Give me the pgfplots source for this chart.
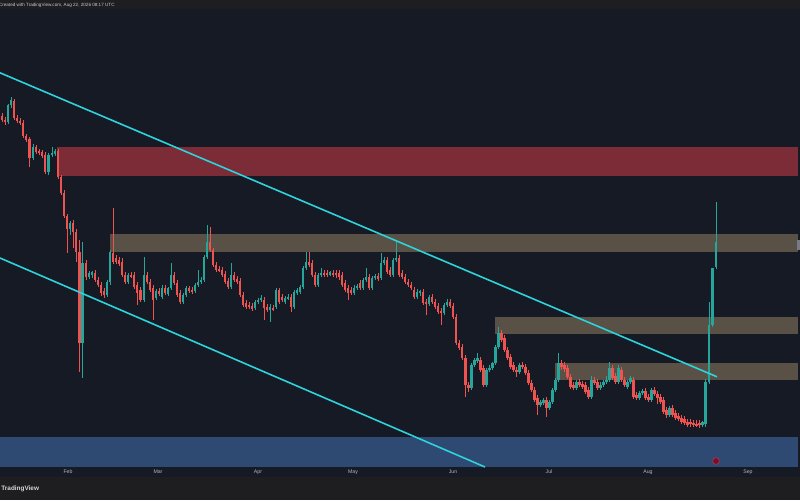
\documentclass[border=0pt]{standalone}
\usepackage{pgfplots}
\pgfplotsset{compat=1.18}
\usepackage{pgfplotstable}
\usepackage{fontspec}
\setmainfont{Liberation Sans}
\definecolor{bgchart}{RGB}{22,26,37}
\definecolor{strip}{RGB}{30,30,32}
\definecolor{zred}{RGB}{123,44,54}
\definecolor{zbrown}{RGB}{89,80,70}
\definecolor{zblue}{RGB}{46,74,114}
\definecolor{cred}{RGB}{239,83,80}
\definecolor{cgreen}{RGB}{38,166,154}
\definecolor{chan}{RGB}{45,212,220}
\definecolor{lbl}{RGB}{178,181,190}
\definecolor{tabgray}{RGB}{120,123,134}
\definecolor{evfill}{RGB}{110,18,45}
\definecolor{evdraw}{RGB}{190,50,80}
\definecolor{toptext}{RGB}{200,202,208}
\definecolor{bottext}{RGB}{215,215,218}

\pgfplotstableread{
x o h l c
2 116 113 122 120
5 120 117 125 122
8 122 104 124 105
11 105 97 108 100
14 101 99 120 118
17 118 115 123 121
20 121 118 125 123
23 123 120 138 136
26 136 134 142 140
29.5 139 137 167 158
33 158 144 160 147
36 147 145 154 152
39 151 149 155 153
42 152 150 158 156
45 155 152 174 172
48.5 172 153 175 155
52 155 147 157 153
55 154 149 156 151
58 151 149 179 177
61 177 175 195 193
64 193 190 218 216
67 216 214 253 229
70 229 221 235 223
73 223 220 248 232
76 232 229 262 252
79.5 252 240 372 343
82.5 343 242 378 263
86 263 260 280 277
89 277 271 279 273
92 275 271 278 272
95 273 270 282 280
98 280 277 287 285
101 285 282 296 293
104 291 288 298 295
107 295 280 297 282
110 282 250 285 252
113 253 208 264 262
116 258 255 264 262
119 260 257 266 264
122 262 258 277 275
125 275 272 284 282
128 282 273 284 275
131 275 272 278 276
134 275 272 289 287
137 285 282 305 293
140.5 290 287 302 300
144 300 257 302 275
147 275 272 284 282
150 282 279 292 290
153 288 285 320 300
156 298 289 300 291
159 291 288 296 294
162 297 285 299 288
165 288 285 295 293
168 294 287 296 288
171 288 263 290 275
174 275 272 285 283
177 283 280 297 295
180 293 290 304 302
183 302 293 304 295
186 295 286 297 288
189 288 286 293 291
192 290 287 294 292
195 291 283 293 285
198 285 270 287 282
201 282 277 284 280
204 280 255 282 257
207 257 225 259 242
210 242 227 252 250
213 250 248 267 265
216 265 262 272 270
219 269 266 272 270
222 270 267 277 275
225 274 271 284 282
228 281 278 289 287
231 287 263 289 275
234 275 272 282 280
237 279 276 284 282
240 281 278 297 295
243 295 292 307 305
246 303 300 309 307
249 305 302 309 307
252 306 303 311 309
255 308 300 310 302
258 302 298 304 300
261 300 295 302 298
264 300 297 320 308
267 307 304 312 310
270 310 304 322 307
273 308 305 311 309
276 307 288 309 290
279 290 288 304 302
282 297 294 302 300
285 302 296 304 298
288 298 294 300 297
291 297 294 312 307
294 307 290 309 292
297 293 288 295 290
300 292 285 294 287
303 287 266 289 268
306 268 252 270 262
309 262 252 267 265
312 263 260 277 275
315 275 272 287 285
318 285 273 287 275
321 275 268 277 273
324 273 270 277 275
327 273 270 277 275
330 275 271 276 272
333 273 270 277 275
336 273 270 278 275
339 273 270 280 277
342 275 272 287 285
345 283 280 292 290
348 288 285 300 293
351 290 287 295 293
354 293 285 295 288
357 288 284 290 286
360 283 280 290 288
363 288 278 290 280
366 280 268 282 277
369 277 274 290 288
372 288 276 290 278
375 278 274 280 276
378 276 273 281 279
381 278 253 280 263
384 263 257 265 260
387 260 257 274 272
390 270 267 277 275
393 275 258 277 260
396 260 240 262 258
399 258 255 277 275
402 273 270 279 277
405 277 274 284 282
408 282 279 287 285
411 285 282 290 288
414 290 287 299 297
417 297 289 299 292
420 293 290 296 291
423 292 289 305 303
426 302 299 315 304
429 304 295 306 297
432 297 294 304 302
435 302 299 309 307
438 306 303 314 312
441 311 308 325 313
444 313 303 315 305
447 305 299 307 302
450 302 299 308 306
453 306 303 319 317
456 317 314 345 343
459 343 340 350 348
462 347 344 360 358
465.5 358 355 397 385
468.5 385 382 392 388
471.5 388 363 390 365
474.5 365 358 367 360
477.5 361 353 363 358
480.5 360 357 372 370
483.5 368 365 387 385
486.5 385 368 387 370
489.5 370 365 372 368
492.5 368 362 370 363
495.5 363 345 365 347
498.5 347 327 349 333
501.5 333 330 342 340
504.5 338 335 352 350
507.5 350 347 360 358
510.5 357 354 369 367
513.5 365 362 372 370
516.5 370 367 377 372
519.5 372 363 374 365
522.5 365 362 369 367
525.5 367 364 375 373
528.5 373 370 385 383
531.5 383 380 392 390
534.5 390 387 402 400
537.5 398 395 415 405
540.5 405 400 407 402
543.5 403 398 405 400
546.5 400 397 417 408
549.5 408 400 410 402
552.5 402 388 404 390
555.5 390 378 392 380
558.5 380 353 382 363
561.5 363 360 370 367
564.5 365 362 372 369
567.5 368 365 379 377
570.5 377 374 389 387
573.5 385 382 390 388
576.5 388 380 390 382
579.5 382 379 387 385
582.5 384 381 389 387
585.5 385 382 394 392
588.5 390 387 399 397
591.5 397 376 399 380
594.5 380 377 385 383
597.5 382 379 390 388
600.5 388 382 390 385
603.5 385 380 387 382
606.5 382 376 384 380
609.5 380 362 382 368
612.5 368 365 380 378
615.5 376 373 384 382
618.5 382 365 384 368
621.5 370 367 382 380
624.5 380 377 387 385
627.5 387 380 389 382
630.5 382 376 384 378
633.5 380 377 399 397
636.5 395 392 400 398
639.5 398 391 400 393
642.5 393 389 395 391
645.5 391 388 400 398
648.5 397 394 402 400
651.5 400 388 402 390
654.5 390 387 396 394
657.5 394 391 404 398
660.5 397 394 404 402
663.5 400 397 414 412
666.5 410 407 418 415
669.5 415 406 417 408
672.5 408 405 417 415
675.5 413 410 420 418
678.5 416 413 421 419
681.5 418 415 424 422
684.5 419 416 425 423
687.5 422 419 427 425
690.5 422 419 427 424
693.5 423 420 427 425
696.5 424 420 427 425
699.5 423 420 428 425
702.5 425 421 427 422
705.5 424 379 427 382
709 382 302 384 325
712.5 325 316 327 268
716 267 202 269 242
}\candles

\pgfplotsset{
  candle/.style n args={2}{draw=none, mark=none, forget plot,
    error bars/y dir=both, error bars/y explicit, error bars/error mark=none,
    error bars/error bar style={draw=#1, line width=#2}},
}

\begin{document}
\begin{tikzpicture}
\path[use as bounding box, clip] (0,0) rectangle (400pt,250pt);
\begin{axis}[
  at={(0,0)}, anchor=south west,
  x=0.5pt, y=0.5pt,
  xmin=0, xmax=800, ymin=0, ymax=500,
  y dir=reverse,
  hide axis,
  clip=false,
]
% backgrounds
\fill[strip] (axis cs:0,0) rectangle (axis cs:800,9);
\fill[bgchart] (axis cs:0,9) rectangle (axis cs:800,477);
\fill[strip] (axis cs:0,477) rectangle (axis cs:800,500);
% zones
\fill[zblue] (axis cs:0,437) rectangle (axis cs:798,467);
\fill[zred] (axis cs:57,147) rectangle (axis cs:798,176);
\fill[zbrown] (axis cs:110,234) rectangle (axis cs:798,252);
\fill[zbrown] (axis cs:495,317) rectangle (axis cs:798,334);
\fill[zbrown] (axis cs:555,363) rectangle (axis cs:798,380);
\fill[tabgray] (axis cs:797,240) rectangle (axis cs:800,250);

% wicks
\addplot[candle={cgreen}{0.35pt},
  restrict expr to domain={\thisrow{o}-\thisrow{c}}{0:1000}]
  table[x=x, y expr={(\thisrow{h}+\thisrow{l})/2}, y error expr={(\thisrow{l}-\thisrow{h})/2}] {\candles};
\addplot[candle={cred}{0.35pt},
  restrict expr to domain={\thisrow{c}-\thisrow{o}}{0.5:1000}]
  table[x=x, y expr={(\thisrow{h}+\thisrow{l})/2}, y error expr={(\thisrow{l}-\thisrow{h})/2}] {\candles};
% bodies
\addplot[candle={cgreen}{1.3pt},
  restrict expr to domain={\thisrow{o}-\thisrow{c}}{0:1000}]
  table[x=x, y expr={(\thisrow{o}+\thisrow{c})/2}, y error expr={max(abs(\thisrow{o}-\thisrow{c})/2,0.6)}] {\candles};
\addplot[candle={cred}{1.3pt},
  restrict expr to domain={\thisrow{c}-\thisrow{o}}{0.5:1000}]
  table[x=x, y expr={(\thisrow{o}+\thisrow{c})/2}, y error expr={max(abs(\thisrow{o}-\thisrow{c})/2,0.6)}] {\candles};

% channel lines
\addplot[chan, line width=0.8pt, mark=none] coordinates {(0,72.8) (717,376.8)};
\addplot[chan, line width=0.8pt, mark=none] coordinates {(0,258) (485,467)};

% event marker
\addplot[only marks, mark=*, mark size=1.7pt, mark options={fill=evfill, draw=evdraw, line width=0.3pt}] coordinates {(716,461)};

% texts
\node[anchor=east, text=toptext, inner sep=0pt, font=\fontsize{2.3pt}{2.6pt}\selectfont] at (axis cs:115,5) {Created with TradingView.com, Aug 22, 2026 08:17 UTC};
\node[text=lbl, inner sep=0pt, font=\fontsize{2.6pt}{3pt}\selectfont] at (axis cs:68,472) {Feb};
\node[text=lbl, inner sep=0pt, font=\fontsize{2.6pt}{3pt}\selectfont] at (axis cs:158,472) {Mar};
\node[text=lbl, inner sep=0pt, font=\fontsize{2.6pt}{3pt}\selectfont] at (axis cs:258,472) {Apr};
\node[text=lbl, inner sep=0pt, font=\fontsize{2.6pt}{3pt}\selectfont] at (axis cs:353,472) {May};
\node[text=lbl, inner sep=0pt, font=\fontsize{2.6pt}{3pt}\selectfont] at (axis cs:453,472) {Jun};
\node[text=lbl, inner sep=0pt, font=\fontsize{2.6pt}{3pt}\selectfont] at (axis cs:549,472) {Jul};
\node[text=lbl, inner sep=0pt, font=\fontsize{2.6pt}{3pt}\selectfont] at (axis cs:648,472) {Aug};
\node[text=lbl, inner sep=0pt, font=\fontsize{2.6pt}{3pt}\selectfont] at (axis cs:748,472) {Sep};
\node[anchor=west, text=bottext, inner sep=0pt, font=\fontsize{3.2pt}{3.6pt}\selectfont\bfseries] at (axis cs:1,489) {TradingView};
\end{axis}
\end{tikzpicture}
\end{document}
